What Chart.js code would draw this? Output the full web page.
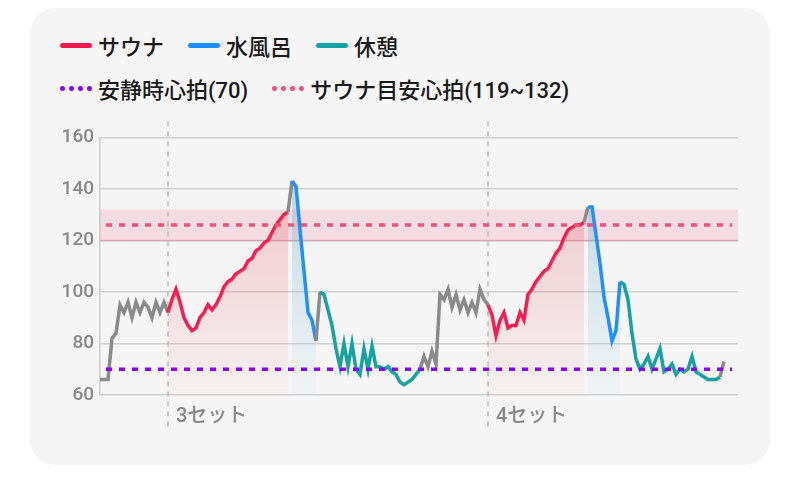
<!DOCTYPE html>
<html>
<head>
<meta charset="utf-8">
<script src="https://cdn.jsdelivr.net/npm/chart.js@4/dist/chart.umd.min.js"></script>
<style>
  body { margin: 0; background: #fff; font-family: Roboto, "Noto Sans CJK JP", sans-serif; }
  #card { position: absolute; left: 30px; top: 8px; width: 740px; height: 457px; background: #f5f5f5; border-radius: 26px; }
  .legend { position: absolute; left: 60px; font-size: 22px; font-weight: 500; color: #1a1a1a; display: flex; align-items: center; }
  .item { display: flex; align-items: center; margin-right: 24px; }
  .sw { width: 32px; height: 0; margin-right: 6px; }
  #wrap { position: absolute; left: 40px; top: 120px; width: 700px; height: 330px; }
</style>
</head>
<body>
<div id="card"></div>
<div class="legend" style="top:29px">
  <div class="item"><span class="sw" style="border-top:5px solid #f5174f;border-radius:3px"></span>サウナ</div>
  <div class="item"><span class="sw" style="border-top:5px solid #1a8cff;border-radius:3px"></span>水風呂</div>
  <div class="item"><span class="sw" style="border-top:5px solid #17a2a0;border-radius:3px"></span>休憩</div>
</div>
<div class="legend" style="top:72px">
  <div class="item"><span class="sw" style="border-top:5px dotted #8a00ff"></span>安静時心拍(70)</div>
  <div class="item"><span class="sw" style="border-top:5px dotted #f0507a"></span>サウナ目安心拍(119~132)</div>
</div>
<div id="wrap"><canvas id="hr"></canvas></div>
<script>
const heartRate = [66,66,66,82,84,95,92,96,90,96,92,96,94,90,96,92,96,92,97,101,
  96,90,87,85,86,90,92,95,93,95,98,102,104,105,107,108,109,112,113,116,
  117,119,120,123,126,128,130,131,143,141,124,108,92,89,81,100,99,93,87,78,
  71,80,71,80,70,68,78,70,79,71,71,70,71,69,68,65,64,65,66,68,
  70,75,71,77,72,99,97,101,94,99,93,97,92,96,92,101,97,95,91,83,
  89,92,86,87,87,92,89,99,101,104,106,108,109,112,115,117,121,124,125,126,
  126,127,133,133,122,111,98,90,81,85,104,103,97,84,74,70,72,75,70,74,
  78,69,70,72,68,70,69,70,75,69,68,67,66,66,66,67,73];
const saunaRanges = [[17, 47], [97, 121]];
const coldRanges = [[48, 54], [122, 130]];
const restRanges = [[55, 80], [130, 155]];
const setMarks = [17, 97];
const setLabels = ['3セット', '4セット'];
const restingHR = 70;
const saunaTarget = [120, 132];
const saunaTargetLine = 126;
const yTicks = [60, 80, 100, 120, 140, 160];

const inRanges = (i, ranges) => ranges.some(r => i >= r[0] && i < r[1]);
const inRangesFill = (i, ranges) => ranges.some(r => i >= r[0] && i <= r[1]);

function segColor(ctx) {
  const i = ctx.p0DataIndex;
  if (inRanges(i, saunaRanges)) return '#f5174f';
  if (inRanges(i, coldRanges)) return '#1a8cff';
  if (inRanges(i, restRanges)) return '#17a2a0';
  return '#8a8a8a';
}

const pts = heartRate.map((v, i) => ({ x: i, y: v }));
const fillPts = ranges => heartRate.map((v, i) => ({ x: i, y: inRangesFill(i, ranges) ? v : null }));

function grad(ctx, top, bottom) {
  const area = ctx.chart.chartArea;
  if (!area) return top;
  const g = ctx.chart.ctx.createLinearGradient(0, area.top + 40, 0, area.bottom);
  g.addColorStop(0, top);
  g.addColorStop(1, bottom);
  return g;
}

const overlay = {
  id: 'overlay',
  beforeDatasetsDraw(chart) {
    const { ctx, chartArea: a, scales: { x, y } } = chart;
    ctx.save();
    ctx.fillStyle = 'rgba(240,80,120,0.15)';
    ctx.fillRect(a.left, y.getPixelForValue(saunaTarget[1]), a.right - a.left,
      y.getPixelForValue(saunaTarget[0]) - y.getPixelForValue(saunaTarget[1]));
    ctx.strokeStyle = 'rgba(200,100,130,0.35)';
    ctx.lineWidth = 1.5;
    ctx.beginPath();
    ctx.moveTo(a.left, y.getPixelForValue(saunaTarget[0]));
    ctx.lineTo(a.right, y.getPixelForValue(saunaTarget[0]));
    ctx.stroke();
    ctx.strokeStyle = '#bbb';
    ctx.setLineDash([5, 5]);
    ctx.lineWidth = 1.5;
    ctx.fillStyle = '#888';
    ctx.font = '500 20px Roboto, "Noto Sans CJK JP"';
    setMarks.forEach((m, k) => {
      const px = x.getPixelForValue(m);
      ctx.beginPath();
      ctx.moveTo(px, a.top - 16);
      ctx.lineTo(px, a.bottom + 35);
      ctx.stroke();
      ctx.fillText(setLabels[k], px + 8, a.bottom + 27);
    });
    ctx.restore();
  },
  afterDatasetsDraw(chart) {
    const { ctx, chartArea: a, scales: { y } } = chart;
    ctx.save();
    ctx.lineWidth = 3.5;
    ctx.setLineDash([6, 7]);
    ctx.strokeStyle = '#f0507a';
    ctx.beginPath();
    ctx.moveTo(a.left + 6, y.getPixelForValue(saunaTargetLine));
    ctx.lineTo(a.right - 6, y.getPixelForValue(saunaTargetLine));
    ctx.stroke();
    ctx.strokeStyle = '#8a00ff';
    ctx.beginPath();
    ctx.moveTo(a.left + 6, y.getPixelForValue(restingHR));
    ctx.lineTo(a.right - 6, y.getPixelForValue(restingHR));
    ctx.stroke();
    ctx.restore();
  }
};

new Chart(document.getElementById('hr'), {
  type: 'line',
  data: {
    datasets: [
      { data: fillPts(saunaRanges), borderWidth: 0, pointRadius: 0, spanGaps: false,
        fill: { value: 60 }, backgroundColor: ctx => grad(ctx, 'rgba(230,90,100,0.32)', 'rgba(240,120,130,0.04)') },
      { data: fillPts(coldRanges), borderWidth: 0, pointRadius: 0, spanGaps: false,
        fill: { value: 60 }, backgroundColor: ctx => grad(ctx, 'rgba(70,160,200,0.35)', 'rgba(120,190,220,0.04)') },
      { data: pts, borderWidth: 3.5, pointRadius: 0, tension: 0, fill: false,
        borderColor: '#8a8a8a', segment: { borderColor: segColor } }
    ]
  },
  options: {
    responsive: true,
    maintainAspectRatio: false,
    animation: false,
    layout: { padding: { top: 12, bottom: 55, right: 2 } },
    plugins: { legend: { display: false }, tooltip: { enabled: false } },
    scales: {
      x: { type: 'linear', min: 0, max: 159.5, display: false },
      y: {
        min: 60, max: 160,
        afterFit: s => { s.width = 60; },
        afterBuildTicks: s => { s.ticks = yTicks.map(v => ({ value: v })); },
        ticks: { color: '#888', font: { size: 19, family: 'Roboto', weight: '500' }, padding: 6 },
        grid: { color: '#d0d0d0', lineWidth: 1.5, drawTicks: false },
        border: { color: '#ccc', width: 1.5 }
      }
    }
  },
  plugins: [overlay]
});
</script>
</body>
</html>
